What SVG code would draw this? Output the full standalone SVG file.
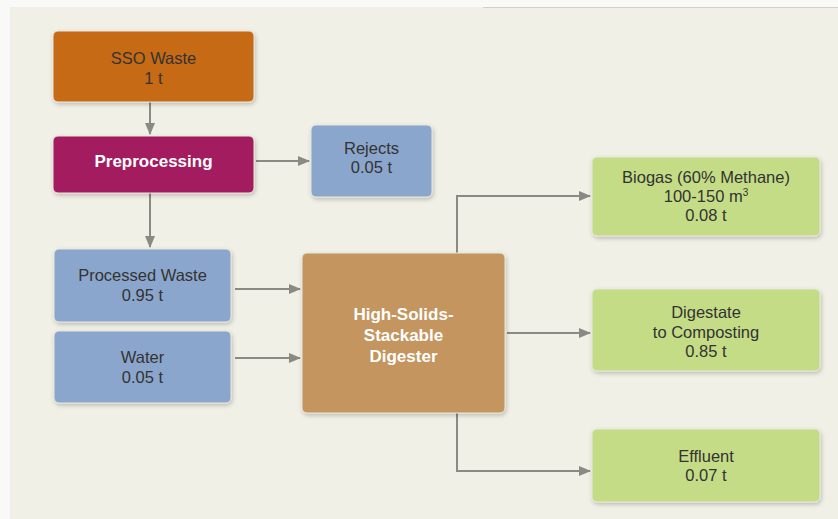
<svg xmlns="http://www.w3.org/2000/svg" width="838" height="519" viewBox="0 0 838 519">
<defs>
<filter id="sh" x="-10%" y="-10%" width="125%" height="130%">
<feDropShadow dx="1" dy="2" stdDeviation="2" flood-color="#000" flood-opacity="0.22"/>
</filter>
<marker id="ah" markerWidth="12" markerHeight="10" refX="11" refY="5" orient="auto" markerUnits="userSpaceOnUse">
<path d="M0,0 L12,5 L0,10 Z" fill="#8a8a84"/>
</marker>
<style>
.box{filter:url(#sh);stroke:#e6e6dc;stroke-width:1}
.t{font-family:"Liberation Sans",Arial,sans-serif;font-size:16.5px;fill:#333;text-anchor:middle}
.tb{font-family:"Liberation Sans",Arial,sans-serif;font-size:17px;font-weight:bold;fill:#fff;text-anchor:middle}
.c{fill:none;stroke:#8a8a84;stroke-width:2;marker-end:url(#ah)}
</style>
</defs>
<rect x="0" y="0" width="838" height="519" fill="#f9f9f7"/>
<rect x="10" y="7" width="828" height="512" fill="#f0f0e6"/>
<line x1="483" y1="7.5" x2="838" y2="7.5" stroke="#d0d0cc" stroke-width="1"/>
<g id="connectors">
<path class="c" d="M150,102 V134"/>
<path class="c" d="M256,161 H309"/>
<path class="c" d="M150,193 V247"/>
<path class="c" d="M235,289 H300"/>
<path class="c" d="M235,358 H300"/>
<path class="c" d="M457,253 V196 H590"/>
<path class="c" d="M507,333 H590"/>
<path class="c" d="M457,413 V471 H590"/>
</g>
<g id="sso">
<rect class="box" x="53" y="31" width="201" height="71" rx="5" fill="#c66a19"/>
<text class="t" x="153.5" y="64">SSO Waste</text>
<text class="t" x="153.5" y="83.5">1 t</text>
</g>
<g id="preprocessing">
<rect class="box" x="53" y="136" width="201" height="57" rx="5" fill="#a21b5f"/>
<text class="tb" x="153.5" y="167">Preprocessing</text>
</g>
<g id="rejects">
<rect class="box" x="311" y="125" width="121" height="72" rx="5" fill="#8ba6cc"/>
<text class="t" x="371.5" y="154">Rejects</text>
<text class="t" x="371.5" y="173">0.05 t</text>
</g>
<g id="processed">
<rect class="box" x="54" y="249" width="177" height="73" rx="5" fill="#8ba6cc"/>
<text class="t" x="142.5" y="281">Processed Waste</text>
<text class="t" x="142.5" y="300.5">0.95 t</text>
</g>
<g id="water">
<rect class="box" x="54" y="331" width="177" height="72" rx="5" fill="#8ba6cc"/>
<text class="t" x="142.5" y="363">Water</text>
<text class="t" x="142.5" y="382.5">0.05 t</text>
</g>
<g id="digester">
<rect class="box" x="302" y="253" width="203" height="160" rx="5" fill="#c4955f"/>
<text class="tb" x="403.5" y="320">High-Solids-</text>
<text class="tb" x="403.5" y="341">Stackable</text>
<text class="tb" x="403.5" y="362">Digester</text>
</g>
<g id="biogas">
<rect class="box" x="592" y="157" width="228" height="79" rx="5" fill="#c4dc86"/>
<text class="t" x="706" y="182.5">Biogas (60% Methane)</text>
<text class="t" x="706" y="201.5">100-150 m<tspan font-size="10" dy="-6">3</tspan></text>
<text class="t" x="706" y="220.5">0.08 t</text>
</g>
<g id="digestate">
<rect class="box" x="592" y="289" width="228" height="82" rx="5" fill="#c4dc86"/>
<text class="t" x="706" y="318">Digestate</text>
<text class="t" x="706" y="337.5">to Composting</text>
<text class="t" x="706" y="356.5">0.85 t</text>
</g>
<g id="effluent">
<rect class="box" x="592" y="429" width="228" height="73" rx="5" fill="#c4dc86"/>
<text class="t" x="706" y="461.5">Effluent</text>
<text class="t" x="706" y="480.5">0.07 t</text>
</g>
</svg>
